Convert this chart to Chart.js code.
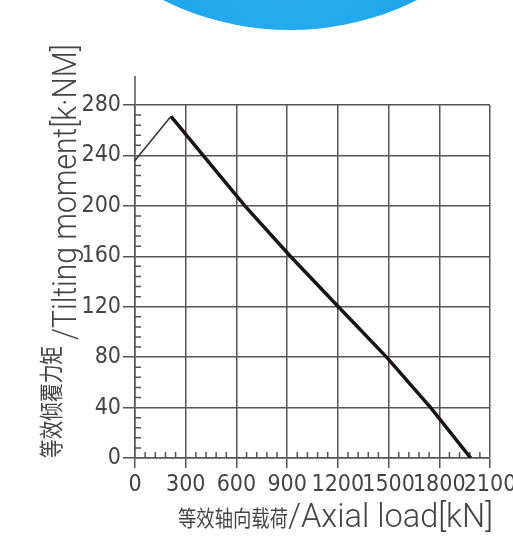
<!DOCTYPE html>
<html>
<head>
<meta charset="utf-8">
<script src="https://cdn.jsdelivr.net/npm/chart.js@4"></script>
<style>
	html, body { margin: 0; padding: 0; background: #fff; overflow: hidden; }
	#wrap { position: relative; width: 513px; height: 544px; }
	#blob {
		position: absolute; left: 6px; top: -538px; width: 568px; height: 568px;
		border-radius: 50%;
		background: radial-gradient(circle at 50% 85%, #2bb0f2 0%, #179ee6 40%, #0a88d6 100%);
	}
	#chart { position: absolute; left: 0; top: 0; }
</style>
</head>
<body>
<div id="wrap">
	<div id="blob"></div>
	<canvas id="chart" width="513" height="544"></canvas>
</div>
<script>
"use strict";

// data
var rampLoad = [0, 213];
var rampMoment = [236, 271];
var ratedLoad = [213, 403, 650, 919, 1203, 1488, 1749, 1986];
var ratedMoment = [271, 240, 200, 160, 120, 80, 40, 0];

var xTicks = [0, 300, 600, 900, 1200, 1500, 1800, 2100];
var yTicks = [0, 40, 80, 120, 160, 200, 240, 280];
var xMinorStep = 60;
var yMinorStep = 8;
var yAxisTop = 303;   // y axis line runs a bit above the top grid line

var xTitleCn = '等效轴向载荷';
var xTitleEn = '/Axial load[kN]';
var yTitleCn = '等效倾覆力矩';
var yTitleEn = '/Tilting moment[k·NM]';

var lineGrey = '#555';
var textGrey = '#444';
var narrowFont = "'Liberation Sans Narrow', 'DejaVu Sans Condensed', sans-serif";
var thinFont = "Roboto, 'Liberation Sans', sans-serif";
var cjkFont = "'Noto Sans CJK SC', sans-serif";

function toPoints(xs, ys) {
	return xs.map(function (x, i) { return { x: x, y: ys[i] }; });
}

// draw text squeezed/stretched to a given width
function fitText(ctx, text, x, y, w) {
	var m = ctx.measureText(text).width;
	ctx.save();
	ctx.translate(x, y);
	ctx.scale(w / m, 1);
	ctx.fillText(text, 0, 0);
	ctx.restore();
}

var extrasPlugin = {
	id: 'extras',
	beforeDatasetsDraw: function (chart) {
		var ctx = chart.ctx;
		var xs = chart.scales.x, ys = chart.scales.y;
		var left = chart.chartArea.left, bottom = chart.chartArea.bottom;
		ctx.save();
		ctx.strokeStyle = lineGrey;
		ctx.lineWidth = 1.5;
		ctx.beginPath();
		// minor ticks on the y axis
		for (var v = yMinorStep; v < yTicks[yTicks.length - 1]; v += yMinorStep) {
			if (v % 40 === 0) continue;
			var py = ys.getPixelForValue(v);
			ctx.moveTo(left, py);
			ctx.lineTo(left + 6, py);
		}
		// minor ticks on the x axis
		for (var u = xMinorStep; u < xTicks[xTicks.length - 1]; u += xMinorStep) {
			if (u % 300 === 0) continue;
			var px = xs.getPixelForValue(u);
			ctx.moveTo(px, bottom);
			ctx.lineTo(px, bottom - 6);
		}
		// y axis line extension
		ctx.moveTo(left, chart.chartArea.top);
		ctx.lineTo(left, ys.getPixelForValue(yAxisTop));
		ctx.stroke();
		ctx.restore();
	},
	afterDraw: function (chart) {
		var ctx = chart.ctx;
		ctx.save();
		ctx.fillStyle = textGrey;
		ctx.textBaseline = 'alphabetic';
		ctx.textAlign = 'left';

		// x axis title
		ctx.font = '22px ' + cjkFont;
		fitText(ctx, xTitleCn, 178, 526, 110);
		ctx.font = '300 34px ' + thinFont;
		fitText(ctx, xTitleEn, 288, 527, 205);

		// y axis title (rotated, reading upwards)
		ctx.save();
		ctx.translate(60, 458);
		ctx.rotate(-Math.PI / 2);
		ctx.font = '24px ' + cjkFont;
		fitText(ctx, yTitleCn, 0, 0, 112);
		ctx.restore();

		ctx.save();
		ctx.translate(76, 340);
		ctx.rotate(-Math.PI / 2);
		ctx.font = '300 34px ' + thinFont;
		fitText(ctx, yTitleEn, 0, 0, 296);
		ctx.restore();

		ctx.restore();
	}
};

var context = document.getElementById('chart');
var myChart = new Chart(context, {
	type: 'scatter',
	data: {
		datasets: [{
			label: 'ramp',
			data: toPoints(rampLoad, rampMoment),
			showLine: true,
			borderColor: '#333',
			borderWidth: 1.5,
			pointRadius: 0
		}, {
			label: 'rated',
			data: toPoints(ratedLoad, ratedMoment),
			showLine: true,
			borderColor: '#1a1414',
			borderWidth: 3.5,
			pointRadius: 0
		}]
	},
	options: {
		responsive: false,
		animation: false,
		devicePixelRatio: 1,
		layout: { padding: { top: 105, right: 23, bottom: 0, left: 0 } },
		plugins: {
			legend: { display: false },
			tooltip: { enabled: false }
		},
		scales: {
			x: {
				type: 'linear',
				min: xTicks[0],
				max: xTicks[xTicks.length - 1],
				afterBuildTicks: function (scale) {
					scale.ticks = xTicks.map(function (v) { return { value: v }; });
				},
				afterFit: function (scale) {
					scale.height = 86;
					scale.paddingLeft = 0;
					scale.paddingRight = 0;
				},
				grid: { color: lineGrey, lineWidth: 1.5, tickLength: 10 },
				border: { color: lineGrey, width: 1.5 },
				ticks: {
					autoSkip: false,
					maxRotation: 0,
					padding: 3,
					color: textGrey,
					font: { family: narrowFont, size: 23 },
					callback: function (value) { return String(value); }
				}
			},
			y: {
				type: 'linear',
				min: yTicks[0],
				max: yTicks[yTicks.length - 1],
				afterBuildTicks: function (scale) {
					scale.ticks = yTicks.map(function (v) { return { value: v }; });
				},
				afterFit: function (scale) {
					scale.width = 135;
					scale.paddingTop = 0;
					scale.paddingBottom = 0;
				},
				grid: { color: lineGrey, lineWidth: 1.5, tickLength: 12 },
				border: { color: lineGrey, width: 1.5 },
				ticks: {
					autoSkip: false,
					padding: 2,
					color: textGrey,
					font: { family: narrowFont, size: 23 },
					callback: function (value) { return String(value); }
				}
			}
		}
	},
	plugins: [extrasPlugin]
});
</script>
</body>
</html>
